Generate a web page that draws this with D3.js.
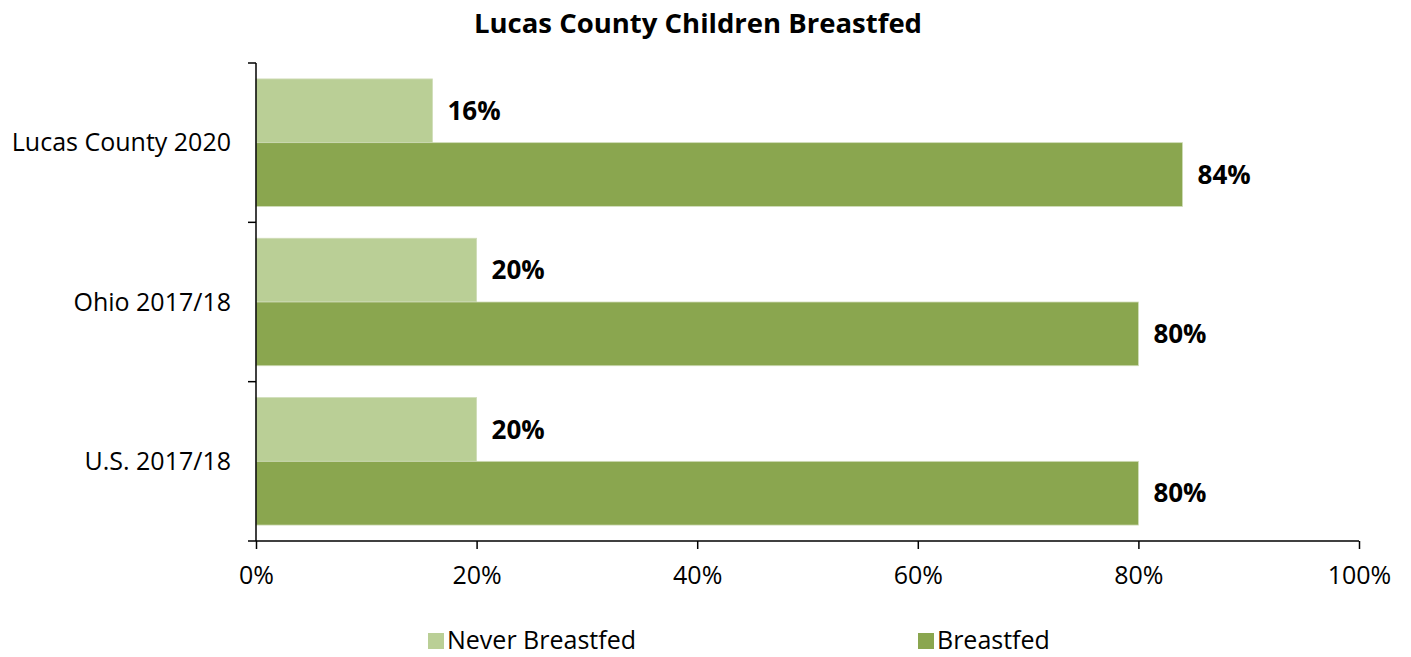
<!DOCTYPE html>
<html>
<head>
<meta charset="utf-8">
<script src="https://cdn.jsdelivr.net/npm/d3@7"></script>
<style>
  body { margin: 0; background: #fff; }
  svg { font-family: "Open Sans", "Noto Sans", sans-serif; }
</style>
</head>
<body>
<svg id="chart" width="1411" height="657"></svg>
<script>
const categories = ["Lucas County 2020", "Ohio 2017/18", "U.S. 2017/18"];
const seriesNames = ["Never Breastfed", "Breastfed"];
const neverBreastfed = [16, 20, 20];
const breastfed = [84, 80, 80];
const xTicks = [0, 20, 40, 60, 80, 100];
const colors = ["#bacf96", "#8aa64f"];

const svg = d3.select("#chart");
const margin = { top: 63, right: 52, bottom: 116, left: 256 };
const width = +svg.attr("width");
const height = +svg.attr("height");
const innerWidth = width - margin.left - margin.right;
const innerHeight = height - margin.top - margin.bottom;

const g = svg.append("g")
  .attr("transform", `translate(${margin.left},${margin.top})`);

const x = d3.scaleLinear().domain([0, 100]).range([0, innerWidth]);
const y = d3.scaleBand().domain(categories).range([0, innerHeight]).paddingInner(0.2).paddingOuter(0.1);
const ySub = d3.scaleBand().domain(seriesNames).range([0, y.bandwidth()]);
const yOuter = d3.scaleBand().domain(categories).range([0, innerHeight]);

const rows = categories.map((c, i) => ({
  category: c,
  values: [
    { name: seriesNames[0], value: neverBreastfed[i], color: colors[0] },
    { name: seriesNames[1], value: breastfed[i], color: colors[1] }
  ]
}));

// title
svg.append("text")
  .attr("x", 698)
  .attr("y", 23)
  .attr("dy", "0.35em")
  .attr("text-anchor", "middle")
  .style("font-weight", "bold")
  .style("font-size", "27.5px")
  .text("Lucas County Children Breastfed");

// bars
const groups = g.selectAll(".grp")
  .data(rows)
  .enter()
  .append("g")
  .attr("transform", d => `translate(0,${y(d.category)})`);

groups.selectAll("rect")
  .data(d => d.values)
  .enter()
  .append("rect")
  .attr("x", 0)
  .attr("y", d => ySub(d.name))
  .attr("width", d => x(d.value))
  .attr("height", ySub.bandwidth())
  .attr("fill", d => d.color)
  .attr("stroke", "#cfdcb8")
  .attr("stroke-width", 0.8);

groups.selectAll("text")
  .data(d => d.values)
  .enter()
  .append("text")
  .attr("x", d => x(d.value) + 15)
  .attr("y", d => ySub(d.name) + ySub.bandwidth() / 2)
  .attr("dy", "0.35em")
  .style("font-weight", "bold")
  .style("font-size", "26px")
  .text(d => d.value + "%");

// y axis
const yAxisG = g.append("g");
yAxisG.append("line")
  .attr("x1", 0).attr("x2", 0)
  .attr("y1", 0).attr("y2", innerHeight)
  .attr("stroke", "#000").attr("stroke-width", 1.5);
yAxisG.selectAll(".tk")
  .data(categories.concat(["end"]))
  .enter()
  .append("line")
  .attr("x1", -8).attr("x2", 0)
  .attr("y1", (d, i) => i < categories.length ? yOuter(d) : innerHeight)
  .attr("y2", (d, i) => i < categories.length ? yOuter(d) : innerHeight)
  .attr("stroke", "#000").attr("stroke-width", 1.5);
yAxisG.selectAll(".lbl")
  .data(categories)
  .enter()
  .append("text")
  .attr("x", -25)
  .attr("y", d => yOuter(d) + yOuter.bandwidth() / 2)
  .attr("dy", "0.35em")
  .attr("text-anchor", "end")
  .style("font-size", "25px")
  .text(d => d);

// x axis
const xAxis = d3.axisBottom(x)
  .tickValues(xTicks)
  .tickSize(8)
  .tickPadding(17)
  .tickFormat(d => d + "%");

const xAxisG = g.append("g")
  .attr("transform", `translate(0,${innerHeight})`)
  .call(xAxis);
xAxisG.select(".domain").attr("stroke-width", 1.5).attr("d", `M0,0H${innerWidth}`);
xAxisG.selectAll(".tick line").attr("stroke-width", 1.5);
xAxisG.selectAll("text")
  .style("font-size", "25px")
  .style("font-family", "\"Open Sans\", \"Noto Sans\", sans-serif")
  .attr("fill", "#000");

// legend
const legendPos = [428, 918];
const legend = svg.append("g");
seriesNames.forEach((name, i) => {
  legend.append("rect")
    .attr("x", legendPos[i]).attr("y", 633)
    .attr("width", 16).attr("height", 16)
    .attr("fill", colors[i]);
  legend.append("text")
    .attr("x", legendPos[i] + 19).attr("y", 640)
    .attr("dy", "0.35em")
    .style("font-size", "25px")
    .text(name);
});
</script>
</body>
</html>
